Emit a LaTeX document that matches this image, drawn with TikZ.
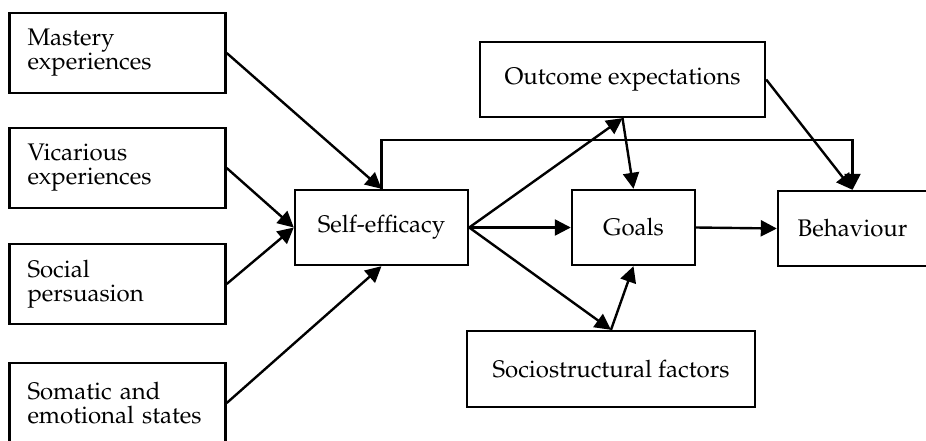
\documentclass[tikz,border=0pt]{standalone}
\usepackage[T1]{fontenc}
\usepackage{mathpazo}
\usetikzlibrary{arrows.meta,positioning}
\tikzset{
    box/.style={draw,line width=1.2pt,minimum height=37.5pt,inner sep=0pt},
    source box/.style={box,minimum height=40pt,minimum width=107.5pt,text width=90pt,inner xsep=9pt,align=left},
    arr/.style={-{Triangle[length=8pt,width=8pt]},line width=1.2pt},
}
\tikzstyle{every node}=[font=\fontsize{12}{12}\selectfont]

\begin{document}
\begin{tikzpicture}[x=0.5pt,y=-0.5pt]
        \useasboundingbox (0,0) rectangle (926,440);

        % sources of self-efficacy
        \node[source box] (mastery) at (117.5,53) {Mastery\\experiences};
        \node[source box] (vicarious) at (117.5,168) {Vicarious\\experiences};
        \node[source box] (persuasion) at (117.5,284) {Social\\persuasion};
        \node[source box] (somatic) at (117.5,403) {Somatic and\\emotional states};

        \node[box,minimum width=86.5pt] (selfeff) at (381.5,227.5) {Self-efficacy};
        \node[box,minimum width=142.5pt] (outcome) at (622.5,79.5) {Outcome expectations};
        \node[box,minimum width=61.5pt] (goals) at (633.5,227.5) {Goals};
        \node[box,minimum width=74.5pt] (behaviour) at (852.5,228.5) {Behaviour};
        \node[box,minimum width=144pt,minimum height=38pt] (socio) at (611,369) {Sociostructural factors};

        \draw[arr] (mastery.east) -- (selfeff.north);
        \draw[arr] (vicarious.east) -- (selfeff.west);
        \draw[arr] (persuasion.east) -- (selfeff.west);
        \draw[arr] (somatic.east) -- (selfeff.south);

        \draw[arr] (selfeff.north) -- ++(0,-49) -| (behaviour.north);
        \draw[arr] (selfeff.east) -- (outcome.south);
        \draw[arr] (selfeff.east) -- (goals.west);
        \draw[arr] (selfeff.east) -- (socio.north);
        \draw[arr] (outcome.south) -- (goals.north);
        \draw[arr] (socio.north) -- (goals.south);
        \draw[arr] (goals.east) -- (behaviour.west);
        \draw[arr] (outcome.east) -- (behaviour.north);
    \end{tikzpicture}
\end{document}
